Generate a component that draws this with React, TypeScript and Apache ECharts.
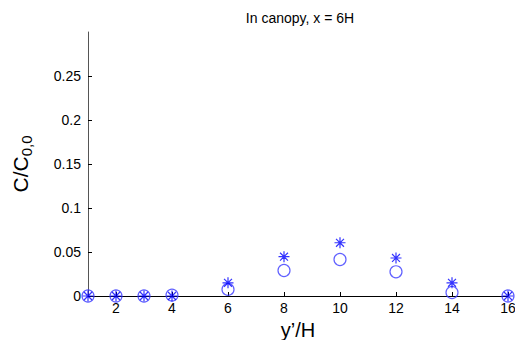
import React, { useEffect, useRef } from "react";
import * as echarts from "echarts";

const xValues = [1, 2, 3, 4, 6, 8, 10, 12, 14, 16];
const starValues = [0, 0, 0, 0, 0.015, 0.0447, 0.0605, 0.0432, 0.015, 0];
const circleValues = [0, 0, 0, 0.001, 0.0075, 0.029, 0.0415, 0.0275, 0.004, 0];
const xTicks = [2, 4, 6, 8, 10, 12, 14, 16];
const yTicks = [0, 0.05, 0.1, 0.15, 0.2, 0.25];

const starPath = "path://M0,-1L0,1M-1,0L1,0M-0.72,-0.72L0.72,0.72M-0.72,0.72L0.72,-0.72";

export default function App() {
  const ref = useRef<HTMLDivElement>(null);
  useEffect(() => {
    if (!ref.current) return;
    const chart = echarts.init(ref.current, null, { renderer: "svg" });
    const font = "Liberation Sans, Arial, sans-serif";
    chart.setOption({
      animation: false,
      backgroundColor: "#ffffff",
      title: {
        text: "In canopy, x = 6H",
        left: 295,
        top: 6,
        textAlign: "center",
        textStyle: { fontFamily: font, fontSize: 14, fontWeight: "normal", color: "#000" },
      },
      grid: { left: 88, right: 7, top: 32, bottom: 44, containLabel: false, outerBoundsMode: "none" },
      xAxis: {
        type: "value",
        min: 1,
        max: 16,
        name: "y\u2019/H",
        nameLocation: "middle",
        nameGap: 20,
        nameTextStyle: { fontFamily: font, fontSize: 20, lineHeight: 20, color: "#000" },
        splitLine: { show: false },
        axisLine: { show: true, onZero: false, lineStyle: { color: "#000", width: 1 } },
        axisTick: { show: true, inside: true, length: 4, customValues: xTicks, lineStyle: { color: "#000" } },
        axisLabel: { customValues: xTicks, fontFamily: font, fontSize: 14, color: "#000", margin: 5 },
      },
      yAxis: {
        type: "value",
        min: 0,
        max: 0.3,
        name: "{a|C/C}{b|0,0}",
        nameLocation: "middle",
        nameRotate: 90,
        nameGap: 54,
        nameTextStyle: {
          rich: {
            a: { fontFamily: font, fontSize: 21, color: "#000" },
            b: { fontFamily: font, fontSize: 15, color: "#000", padding: [12, 0, 0, 0] },
          },
        },
        splitLine: { show: false },
        axisLine: { show: true, lineStyle: { color: "#555", width: 1 } },
        axisTick: { show: true, inside: true, length: 4, customValues: yTicks, lineStyle: { color: "#000" } },
        axisLabel: {
          customValues: yTicks,
          fontFamily: font,
          fontSize: 14,
          color: "#000",
          margin: 7,
          formatter: (v: number) => String(parseFloat(v.toFixed(3))),
        },
      },
      series: [
        {
          type: "scatter",
          data: xValues.map((x, i) => [x, circleValues[i]]),
          symbol: "circle",
          symbolSize: 12,
          clip: false,
          itemStyle: { color: "none", borderColor: "#3a3aff", borderWidth: 1.2 },
          z: 2,
        },
        {
          type: "scatter",
          data: xValues.map((x, i) => [x, starValues[i]]),
          symbol: starPath,
          symbolSize: 11,
          clip: false,
          itemStyle: { color: "none", borderColor: "#0000ff", borderWidth: 1.2 },
          z: 3,
        },
      ],
    });
    return () => chart.dispose();
  }, []);
  return <div ref={ref} style={{ width: 515, height: 340, position: "absolute", left: 0, top: 0 }} />;
}
